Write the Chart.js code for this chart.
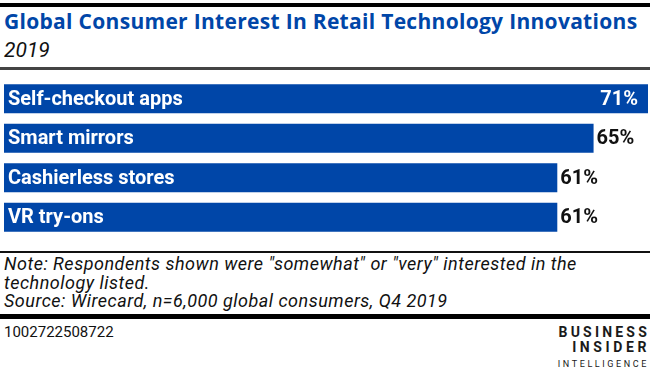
<!DOCTYPE html>
<html>
<head>
<meta charset="utf-8">
<script src="https://cdn.jsdelivr.net/npm/chart.js@4"></script>
<style>
  body { margin: 0; background: #fff; }
  #wrap { position: relative; width: 650px; height: 375px; overflow: hidden; font-family: Roboto, sans-serif; }
  .rule { position: absolute; left: 0; width: 650px; }
  .txt { position: absolute; white-space: nowrap; }
  #title { left: 4px; top: 10px; font-family: "Open Sans", sans-serif; font-size: 21px; line-height: 22px; font-weight: bold; color: #0046a8; letter-spacing: 0.3px; }
  #sub { left: 4px; top: 39px; font-size: 21px; line-height: 22px; font-style: italic; color: #111; }
  #note { left: 4px; top: 255px; font-size: 18px; line-height: 18.5px; font-style: italic; color: #111; letter-spacing: 0.5px; }
  #code { left: 4px; top: 324px; font-size: 15px; line-height: 16px; color: #111; }
  .logo { position: absolute; right: 3px; text-align: right; color: #1a1a1a; font-weight: bold; white-space: nowrap; }
  #chartBox { position: absolute; left: 0; top: 79px; width: 650px; height: 158px; }
</style>
</head>
<body>
<div id="wrap">
  <div class="rule" style="top:3px;height:4px;background:#000;"></div>
  <div class="txt" id="title">Global Consumer Interest In Retail Technology Innovations</div>
  <div class="txt" id="sub">2019</div>
  <div class="rule" style="top:67px;height:3px;background:#444;"></div>
  <div id="chartBox"><canvas id="myChart"></canvas></div>
  <div class="rule" style="top:251px;height:2px;background:#111;"></div>
  <div class="txt" id="note">Note: Respondents shown were "somewhat" or "very" interested in the<br>technology listed.<br>Source: Wirecard, n=6,000 global consumers, Q4 2019</div>
  <div class="rule" style="top:314px;height:5px;background:#000;"></div>
  <div class="txt" id="code">1002722508722</div>
  <div class="logo" style="top:325px;font-size:14px;line-height:14px;letter-spacing:3.2px;margin-right:-3px;">BUSINESS</div>
  <div class="logo" style="top:340px;font-size:14px;line-height:14px;letter-spacing:3.6px;margin-right:-3px;">INSIDER</div>
  <div class="logo" style="top:360px;font-size:9px;line-height:9px;letter-spacing:2.6px;font-weight:normal;margin-right:-2px;">INTELLIGENCE</div>
</div>
<script>
var categories = ["Self-checkout apps", "Smart mirrors", "Cashierless stores", "VR try-ons"];
var interest = [71, 65, 61, 61];
var barColor = "#0046a8";

// writes category name inside the bar and the percent at its end
var barLabels = {
  id: "barLabels",
  afterDatasetsDraw: function (chart) {
    var ctx = chart.ctx;
    var meta = chart.getDatasetMeta(0);
    ctx.save();
    ctx.textBaseline = "middle";
    ctx.font = "bold 20px Roboto";
    meta.data.forEach(function (bar, i) {
      ctx.fillStyle = "#fff";
      ctx.textAlign = "left";
      ctx.fillText(categories[i], chart.chartArea.left + 4, bar.y + 1);
      var pct = interest[i] + "%";
      var w = ctx.measureText(pct).width;
      if (bar.x + w + 6 > chart.width) {
        ctx.textAlign = "right";
        ctx.fillText(pct, bar.x - 10, bar.y + 1);
      } else {
        ctx.fillStyle = "#111";
        ctx.textAlign = "left";
        ctx.fillText(pct, bar.x + 3, bar.y + 1);
      }
    });
    ctx.restore();
  }
};

var ctx = document.getElementById("myChart").getContext("2d");
var myChart = new Chart(ctx, {
  type: "bar",
  data: {
    labels: categories,
    datasets: [
      {
        data: interest,
        backgroundColor: barColor,
        borderWidth: 0,
        categoryPercentage: 1,
        barPercentage: 0.735,
      },
    ],
  },
  options: {
    indexAxis: "y",
    responsive: true,
    maintainAspectRatio: false,
    animation: false,
    layout: { padding: { left: 4, right: 2, top: 0, bottom: 0 } },
    plugins: { legend: { display: false }, tooltip: { enabled: false } },
    scales: {
      x: { display: false, min: 0, max: 71 },
      y: { display: false },
    },
  },
  plugins: [barLabels],
});
</script>
</body>
</html>
